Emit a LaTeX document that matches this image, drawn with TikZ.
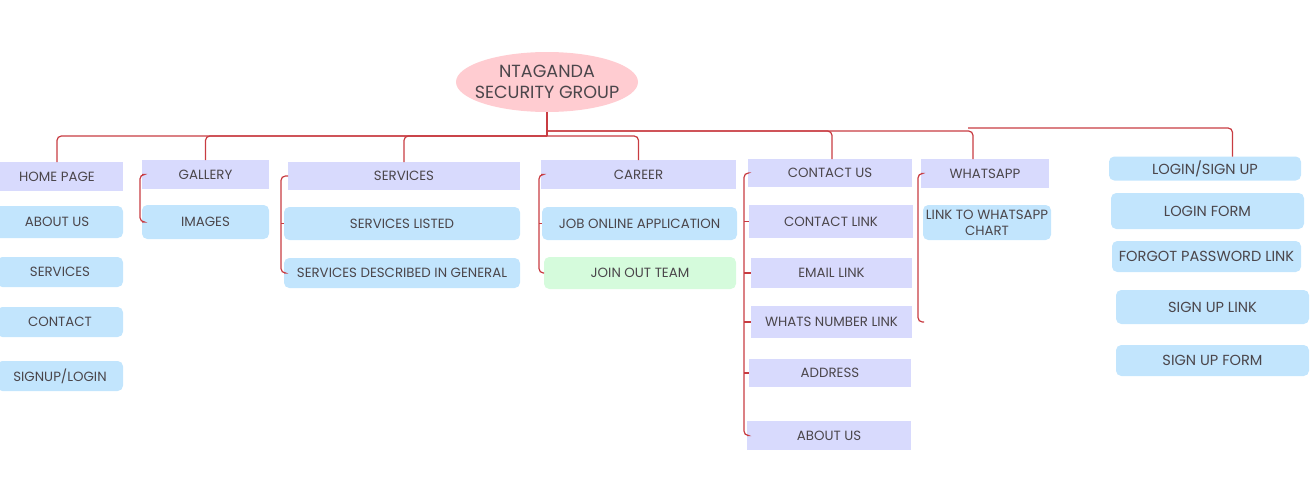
\documentclass[tikz,border=0pt]{standalone}
\usepackage{fontspec}
\setmainfont{Poppins}
\usepackage{tikz}
\usetikzlibrary{calc,shapes.geometric}

\definecolor{lav}{RGB}{216,218,253}
\definecolor{sky}{RGB}{194,229,253}
\definecolor{mint}{RGB}{213,251,220}
\definecolor{rootpink}{RGB}{255,204,209}
\definecolor{txtgray}{RGB}{75,70,75}
\definecolor{linkred}{RGB}{200,60,66}

\tikzset{
  box/.style={inner sep=0pt, outer sep=0pt, text=txtgray, align=center,
    font=\fontsize{7.6}{9}\selectfont},
  wh/.style 2 args={minimum width=#1*0.02cm, minimum height=#2*0.02cm},
  hdr/.style={box, fill=lav},
  leaf/.style={box, fill=sky, rounded corners=3pt},
  big/.style={font=\fontsize{8.3}{10}\selectfont},
  link/.style={draw=linkred, line width=0.7pt, rounded corners=2.5pt},
}

\begin{document}
\begin{tikzpicture}[x=0.02cm, y=-0.02cm]
                    \useasboundingbox (0,0) rectangle (1312,490);

                    % Root
                    \node[ellipse, fill=rootpink, wh={182}{60}, inner sep=0pt, outer sep=0pt]
                      (root) at (547,82) {};
                    \node[box, font=\fontsize{10}{12}\selectfont] (roottext) at (root.center)
                      {NTAGANDA\\SECURITY GROUP};

                    % Home page column
                    \node[hdr, wh={132}{29}] (home) at (57,176.5) {HOME PAGE};
                    \node[leaf, wh={132}{32}] (aboutl) at (57,222) {ABOUT US};
                    \node[leaf, wh={126}{30}] (servl) at (60,272) {SERVICES};
                    \node[leaf, wh={126}{30}] (contactl) at (60,322) {CONTACT};
                    \node[leaf, wh={126}{30}] (signl) at (60,376) {SIGNUP/LOGIN};

                    % Gallery column
                    \node[hdr, wh={127}{29}] (gallery) at (205.5,174.5) {GALLERY};
                    \node[leaf, wh={127}{34}] (images) at (205.5,222) {IMAGES};

                    % Services column
                    \node[hdr, wh={232}{28}] (services) at (404,176) {SERVICES};
                    \node[leaf, wh={236}{33}] (servlist) at (402,223.5) {SERVICES LISTED};
                    \node[leaf, wh={236}{30}] (servdesc) at (402,273) {SERVICES DESCRIBED IN GENERAL};

                    % Career column
                    \node[hdr, wh={195}{29}] (career) at (638.5,174.5) {CAREER};
                    \node[leaf, wh={195}{33}] (job) at (639.5,223.5) {JOB ONLINE APPLICATION};
                    \node[leaf, fill=mint, wh={192}{32}] (join) at (640,273) {JOIN OUT TEAM};

                    % Contact us column
                    \node[hdr, wh={164}{28}] (contact) at (830,173) {CONTACT US};
                    \node[hdr, wh={164}{33}] (clink) at (831,221.5) {CONTACT LINK};
                    \node[hdr, wh={161}{30}] (email) at (831.5,273) {EMAIL LINK};
                    \node[hdr, wh={161}{32}] (whatsno) at (831.5,322) {WHATS NUMBER LINK};
                    \node[hdr, wh={162}{28}] (address) at (830,373) {ADDRESS};
                    \node[hdr, wh={164}{29}] (aboutc) at (829,435.5) {ABOUT US};

                    % Whatsapp column
                    \node[hdr, wh={128}{29}] (whats) at (985,173.5) {WHATSAPP};
                    \node[leaf, wh={128}{35}] (wlink) at (987,222.5) {LINK TO WHATSAPP\\CHART};

                    % Login column
                    \node[leaf, big, wh={192}{24}] (login) at (1205,168.5) {LOGIN/SIGN UP};
                    \node[leaf, big, wh={193}{36}] (lform) at (1207.5,211) {LOGIN FORM};
                    \node[leaf, big, wh={189}{31}] (forgot) at (1206.5,256.5) {FORGOT PASSWORD LINK};
                    \node[leaf, big, wh={193}{34}] (slink) at (1212.5,307) {SIGN UP LINK};
                    \node[leaf, big, wh={193}{31}] (sform) at (1212.5,360.5) {SIGN UP FORM};

                    % Bus from the root
                    \coordinate (busL) at (547,136);
                    \coordinate (busR) at (547,131);
                    \coordinate (lbus) at (968,128);
                    \draw[link] (root.south) -- (busL);
                    \draw[link] (busL) -| (home.north);
                    \draw[link] (busL) -| (gallery.north);
                    \draw[link] (busL) -| (services.north);
                    \draw[link] (busL) -| (career.north);
                    \draw[link] (busR) -| ([xshift=0.04cm]contact.north);
                    \draw[link] (busR) -| ([xshift=-0.24cm]whats.north);
                    \draw[link] (lbus) -| ([xshift=0.55cm]login.north);

                    % Brackets
                    \draw[link] (gallery.west) -- ++(-2,0) |- (images.west);
                    \draw[link] (services.west) -- ++(-7,0) coordinate (sb) |- (servdesc.west);
                    \draw[link] (sb |- servlist.west) -- (servlist.west);
                    \draw[link] (career.west) -- ++(-2,0) coordinate (cb) |- (join.west);
                    \draw[link] (cb |- job.west) -- (job.west);
                    \draw[link] (contact.west) -- ++(-4,0) coordinate (kb) |- (aboutc.west);
                    \foreach \n in {clink,email,whatsno,address}
                      \draw[link] (kb |- \n.west) -- (\n.west);
                    \coordinate (wend) at (924,322);
                    \draw[link] (whats.west) -- ++(-3,0) |- (wend);
                \end{tikzpicture}
\end{document}
